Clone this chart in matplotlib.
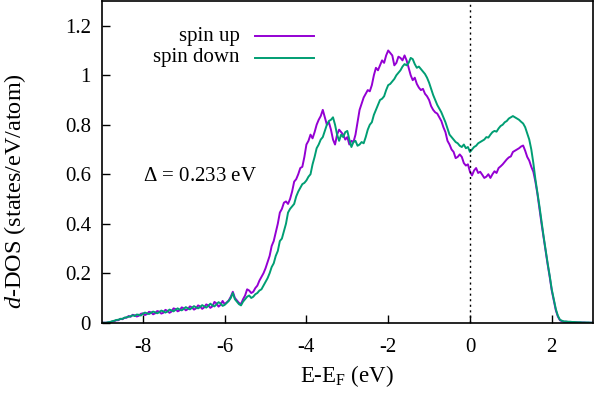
from matplotlib import pyplot as plt
import numpy as np

plt.rcParams['font.family'] = 'Liberation Serif'
plt.rcParams['mathtext.fontset'] = 'custom'
plt.rcParams['mathtext.rm'] = 'Liberation Serif'
plt.rcParams['mathtext.it'] = 'Liberation Serif:italic'
plt.rcParams['axes.unicode_minus'] = False

# energy grid (eV), 0.05 eV step from -9 to 3
energy = np.round(np.arange(-9.0, 3.025, 0.05), 2)

spin_up = [
    0.0, 0.0, 0.0, 0.001, 0.002, 0.005, 0.006, 0.01, 0.01, 0.016,
    0.014, 0.02, 0.02, 0.027, 0.024, 0.032, 0.03, 0.025, 0.028, 0.036,
    0.038, 0.031, 0.035, 0.044, 0.042, 0.034, 0.038, 0.047, 0.045, 0.037,
    0.04, 0.052, 0.048, 0.04, 0.045, 0.058, 0.055, 0.046, 0.05, 0.062,
    0.058, 0.05, 0.055, 0.066, 0.062, 0.053, 0.058, 0.07, 0.066, 0.056,
    0.062, 0.074, 0.07, 0.06, 0.066, 0.084, 0.078, 0.065, 0.072, 0.088,
    0.075, 0.082, 0.09, 0.105, 0.125, 0.1, 0.09, 0.08, 0.075, 0.095,
    0.11, 0.135, 0.13, 0.12, 0.125, 0.14, 0.15, 0.17, 0.185, 0.2,
    0.22, 0.245, 0.27, 0.31, 0.33, 0.365, 0.40, 0.445, 0.46, 0.485,
    0.49, 0.48, 0.50, 0.53, 0.57, 0.58, 0.60, 0.625, 0.63, 0.67,
    0.72, 0.735, 0.76, 0.745, 0.77, 0.80, 0.82, 0.835, 0.86, 0.83,
    0.80, 0.81, 0.78, 0.74, 0.72, 0.76, 0.78, 0.77, 0.76, 0.74,
    0.75, 0.72, 0.735, 0.73, 0.76, 0.81, 0.86, 0.885, 0.91, 0.925,
    0.94, 0.935, 0.96, 1.0, 1.03, 1.02, 1.04, 1.06, 1.05, 1.08,
    1.10, 1.09, 1.08, 1.04, 1.05, 1.075, 1.07, 1.06, 1.08, 1.06,
    1.03, 1.0, 0.98, 0.99, 0.965, 0.95, 0.94, 0.945, 0.925, 0.915,
    0.90, 0.875, 0.86, 0.85, 0.845, 0.83, 0.815, 0.79, 0.77, 0.735,
    0.72, 0.70, 0.69, 0.665, 0.67, 0.68, 0.67, 0.645, 0.635, 0.64,
    0.61, 0.595, 0.615, 0.625, 0.605, 0.61, 0.598, 0.585, 0.59, 0.6,
    0.585, 0.6, 0.612, 0.605, 0.625, 0.632, 0.64, 0.65, 0.66, 0.668,
    0.672, 0.69, 0.695, 0.7, 0.705, 0.712, 0.716, 0.695, 0.67, 0.655,
    0.63, 0.61, 0.57, 0.52, 0.46, 0.40, 0.345, 0.29, 0.235, 0.185,
    0.13, 0.09, 0.05, 0.025, 0.01, 0.006, 0.004, 0.004, 0.003, 0.003,
    0.002, 0.002, 0.002, 0.001, 0.001, 0.001, 0.001, 0.0, 0.0, 0.0,
    0.0,
]

spin_down = [
    0.0, 0.0, 0.0, 0.002, 0.003, 0.006, 0.008, 0.011, 0.012, 0.015,
    0.016, 0.02, 0.022, 0.024, 0.026, 0.03, 0.027, 0.033, 0.032, 0.029,
    0.036, 0.041, 0.038, 0.035, 0.04, 0.045, 0.042, 0.038, 0.042, 0.049,
    0.046, 0.041, 0.045, 0.053, 0.05, 0.046, 0.052, 0.058, 0.053, 0.05,
    0.056, 0.063, 0.058, 0.054, 0.06, 0.067, 0.062, 0.058, 0.063, 0.071,
    0.066, 0.061, 0.068, 0.077, 0.07, 0.066, 0.074, 0.083, 0.078, 0.068,
    0.072, 0.08, 0.088, 0.1, 0.12, 0.095, 0.085, 0.075, 0.07, 0.085,
    0.095, 0.105, 0.11, 0.1, 0.105, 0.115, 0.12, 0.13, 0.135, 0.15,
    0.165, 0.18, 0.20, 0.225, 0.24, 0.27, 0.29, 0.33, 0.34, 0.37,
    0.40, 0.445, 0.46, 0.47, 0.48, 0.51, 0.53, 0.545, 0.56, 0.565,
    0.575, 0.59, 0.60, 0.64, 0.67, 0.705, 0.72, 0.74, 0.75, 0.775,
    0.80, 0.815, 0.82, 0.83, 0.80, 0.76, 0.735, 0.76, 0.75, 0.77,
    0.775, 0.74, 0.71, 0.73, 0.735, 0.715, 0.72, 0.73, 0.725, 0.75,
    0.78, 0.80, 0.81, 0.84, 0.86, 0.88, 0.90, 0.905, 0.915, 0.94,
    0.96, 0.965, 0.975, 0.985, 1.0, 1.01, 1.02, 1.035, 1.045, 1.04,
    1.05, 1.07, 1.065, 1.045, 1.03, 1.035, 1.025, 1.015, 1.005, 0.99,
    0.97, 0.945, 0.92, 0.9, 0.88, 0.865, 0.85, 0.83, 0.81, 0.785,
    0.76, 0.75, 0.74, 0.73, 0.725, 0.715, 0.71, 0.72, 0.705, 0.71,
    0.69, 0.70, 0.71, 0.715, 0.725, 0.73, 0.735, 0.74, 0.75, 0.748,
    0.76, 0.77, 0.775, 0.772, 0.785, 0.795, 0.80, 0.81, 0.815, 0.825,
    0.83, 0.835, 0.83, 0.825, 0.82, 0.812, 0.805, 0.79, 0.765, 0.74,
    0.70, 0.645, 0.58, 0.525, 0.47, 0.41, 0.35, 0.295, 0.24, 0.19,
    0.135, 0.095, 0.055, 0.028, 0.012, 0.008, 0.005, 0.005, 0.004, 0.004,
    0.003, 0.003, 0.002, 0.002, 0.002, 0.001, 0.001, 0.001, 0.001, 0.0,
    0.0,
]

xticks = [-8, -6, -4, -2, 0, 2]
yticks = [0, 0.2, 0.4, 0.6, 0.8, 1.0, 1.2]
ytick_labels = ['0', '0.2', '0.4', '0.6', '0.8', '1', '1.2']

fig = plt.figure(figsize=(5.94, 3.95), dpi=100)
ax = fig.add_axes([0.1717, 0.183, 0.826, 0.8145])

up_color = '#9400D3'
down_color = '#009E73'

ax.plot(energy, spin_up, color=up_color, lw=1.4)
ax.plot(energy, spin_down, color=down_color, lw=1.4)
ax.axvline(0, color='black', ls=(0, (1.5, 2.5)), lw=1.0)

ax.set_xlim(-9, 3)
ax.set_ylim(0, 1.3)
ax.set_xticks(xticks)
ax.set_yticks(yticks)
ax.set_yticklabels(ytick_labels)
ax.tick_params(direction='in', length=6, width=1, labelsize=15,
               top=False, right=False)
ax.tick_params(axis='x', pad=11)
ax.tick_params(axis='y', pad=8)
for spine in ax.spines.values():
    spine.set_linewidth(1.2)

ax.set_xlabel(r'E-E$_\mathrm{F}$ (eV)', fontsize=16.5)
ax.set_ylabel(r'$d$-DOS (states/eV/atom)', fontsize=17.5)
ax.xaxis.set_label_coords(0.5, -0.125)
ax.yaxis.set_label_coords(-0.151, 0.41)

# gnuplot-style key: right-aligned text with sample on the right
ax.text(0.281, 0.891, 'spin up', transform=ax.transAxes, ha='right',
        va='center', fontsize=15)
ax.text(0.281, 0.823, 'spin down', transform=ax.transAxes, ha='right',
        va='center', fontsize=15)
ax.plot([0.312, 0.432], [0.891, 0.891], color=up_color, lw=1.4,
        transform=ax.transAxes)
ax.plot([0.312, 0.432], [0.823, 0.823], color=down_color, lw=1.4,
        transform=ax.transAxes)

ax.text(-8.0, 0.59, r'$\Delta$ = 0.233 eV', fontsize=15, va='center')

fig.savefig('out.png', dpi=100)
